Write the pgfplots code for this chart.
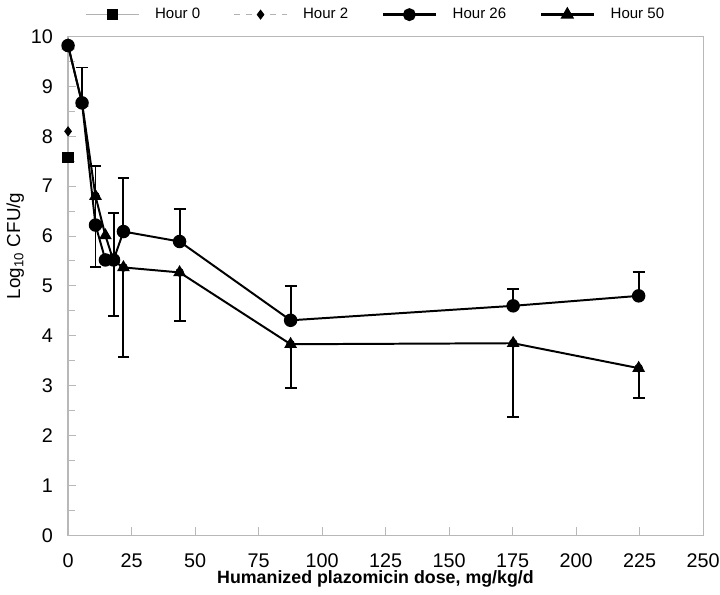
\documentclass[border=0pt]{standalone}
\usepackage{fontspec}
\setmainfont{Liberation Sans}
\usepackage{pgfplots}
\pgfplotsset{compat=1.18}
\definecolor{axgray}{gray}{0.72}
\begin{document}
\begin{tikzpicture}
\begin{axis}[
  name=ax,
  scale only axis, width=321pt, height=252pt,
  xmin=0, xmax=250, ymin=0, ymax=10,
  xtick={0,25,...,250}, ytick={0,1,...,10},
  minor y tick num=1,
  tick align=inside, tick pos=left,
  axis line style={axgray, line width=0.6pt},
  every tick/.style={axgray, line width=0.5pt},
  major tick length=4pt, minor tick length=3.5pt,
  ticklabel style={font=\fontsize{10}{12}\selectfont, inner sep=0pt},
  /pgf/number format/assume math mode=true,
  yticklabel style={xshift=-7.5pt},
  xticklabel style={yshift=-9pt},
  xlabel={\textbf{Humanized plazomicin dose, mg/kg/d}},
  ylabel={Log\textsubscript{10} CFU/g},
  xlabel style={at={(axis description cs:0.484,-0.088)}, anchor=center, font=\fontsize{9}{11}\selectfont},
  ylabel style={at={(axis description cs:-0.083,0.58)}, anchor=center, font=\fontsize{9.5}{11}\selectfont},
  legend columns=4,
  legend image code/.code={\draw[mark repeat=2,mark phase=2,#1] plot coordinates {(0pt,0pt) (13.25pt,0pt) (26.5pt,0pt)};},
  legend style={draw=none, fill=none, at={(axis description cs:0.018,1.044)}, anchor=west,
    font=\fontsize{7.6}{9}\selectfont,
    /tikz/every odd column/.append style={column sep=6pt},
    /tikz/every even column/.append style={column sep=15pt}},
]
% error bars (drawn first, under the marks)
\addplot[forget plot, only marks, mark=none, black,
  error bars/.cd, y dir=plus, y explicit,
  error bar style={line width=1pt, black},
  error mark options={rotate=90, mark size=3pt, line width=1pt, black}]
  table[x=x, y=y, y error=e] {
x y e
5.5 8.67 0.71
10.8 6.22 1.18
17.9 5.52 0.94
21.8 6.09 1.08
43.9 5.89 0.65
87.6 4.31 0.69
175.2 4.60 0.34
224.6 4.80 0.48
};
\addplot[forget plot, only marks, mark=none, black,
  error bars/.cd, y dir=minus, y explicit,
  error bar style={line width=1pt, black},
  error mark options={rotate=90, mark size=3pt, line width=1pt, black}]
  table[x=x, y=y, y error=e] {
x y e
10.8 6.80 1.42
17.9 5.50 1.10
21.8 5.37 1.80
43.9 5.27 0.98
87.6 3.83 0.88
175.2 3.85 1.48
224.6 3.35 0.59
};
% Hour 0
\addplot[forget plot, gray!60, line width=0.5pt, mark=square*, mark size=2.6pt, mark options={black, solid}]
  coordinates {(0,7.58)};
% Hour 2
\addplot[forget plot, gray!60, line width=0.5pt, dashed, mark=diamond*, mark size=2.2pt, mark options={black, solid}]
  coordinates {(0,8.10)};
% Hour 50
\addplot[forget plot, black, line width=1pt, mark=triangle*, mark size=2.75pt, mark options={solid}]
  table[x=x, y=y] {
x y
0 9.82
5.5 8.67
10.8 6.80
14.7 6.01
17.9 5.50
21.8 5.37
43.9 5.27
87.6 3.83
175.2 3.85
224.6 3.35
};
% Hour 26
\addplot[forget plot, black, line width=1pt, mark=*, mark size=2.9pt, mark options={solid}]
  table[x=x, y=y] {
x y
0 9.82
5.5 8.67
10.8 6.22
14.7 5.52
17.9 5.52
21.8 6.09
43.9 5.89
87.6 4.31
175.2 4.60
224.6 4.80
};
\addlegendimage{gray!60, line width=0.5pt, mark=square*, mark size=2.6pt, mark options={black, solid}}
\addlegendentry{Hour 0}
\addlegendimage{gray!60, line width=0.5pt, dashed, mark=diamond*, mark size=2.2pt, mark options={black, solid}}
\addlegendentry{Hour 2}
\addlegendimage{black, line width=1.3pt, mark=*, mark size=2.6pt, mark options={solid}}
\addlegendentry{Hour 26}
\addlegendimage{black, line width=1.3pt, mark=triangle*, mark size=2.7pt, mark options={solid}}
\addlegendentry{Hour 50}
\end{axis}
\path ([shift={(-32pt,-30pt)}]ax.south west) rectangle ([shift={(8.5pt,17pt)}]ax.north east);
\end{tikzpicture}
\end{document}
